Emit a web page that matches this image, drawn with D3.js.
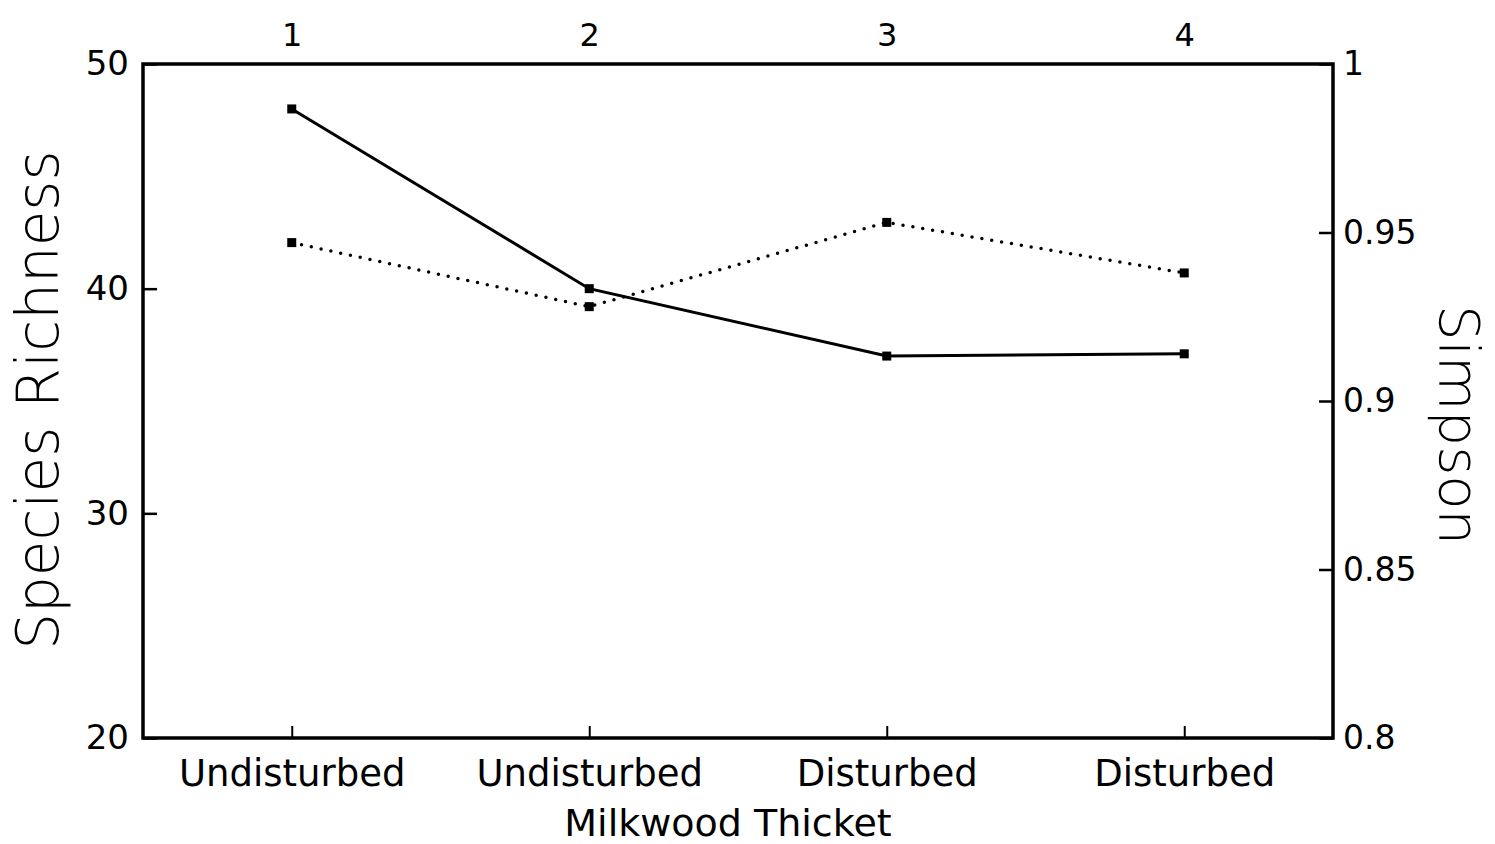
<!DOCTYPE html>
<html>
<head>
<meta charset="utf-8">
<script src="https://cdn.jsdelivr.net/npm/d3@7"></script>
<style>
  body { margin: 0; background: #fff; }
  text { font-family: "DejaVu Sans", sans-serif; fill: #000; }
</style>
</head>
<body>
<script>
// Data
const thickets = ["1", "2", "3", "4"];
const status = ["Undisturbed", "Undisturbed", "Disturbed", "Disturbed"];
const richness = [48, 40, 37, 37.1];
const simpson = [0.947, 0.928, 0.953, 0.938];
const leftTicks = [20, 30, 40, 50];
const rightTicks = [0.8, 0.85, 0.9, 0.95, 1];

const width = 1495, height = 844;
const margin = { top: 64, right: 162, bottom: 106, left: 143 };

const svg = d3.select("body").append("svg")
    .attr("width", width)
    .attr("height", height);

const x = d3.scalePoint()
    .domain(thickets)
    .range([margin.left, width - margin.right])
    .padding(0.5);

const yLeft = d3.scaleLinear()
    .domain([20, 50])
    .range([height - margin.bottom, margin.top]);

const yRight = d3.scaleLinear()
    .domain([0.8, 1])
    .range([height - margin.bottom, margin.top]);

// Frame
svg.append("rect")
    .attr("x", margin.left)
    .attr("y", margin.top)
    .attr("width", width - margin.left - margin.right)
    .attr("height", height - margin.top - margin.bottom)
    .attr("fill", "none")
    .attr("stroke", "#000")
    .attr("stroke-width", 3.5);

// Left axis (inward ticks)
const leftAxis = svg.append("g")
    .attr("transform", `translate(${margin.left},0)`)
    .call(d3.axisRight(yLeft).tickValues(leftTicks).tickSize(14).tickFormat(d3.format("d")));
leftAxis.select(".domain").remove();
leftAxis.selectAll("line").attr("stroke-width", 2.5);
leftAxis.selectAll("text")
    .attr("x", -14)
    .attr("text-anchor", "end")
    .attr("font-size", 34);

// Right axis (inward ticks)
const rightAxis = svg.append("g")
    .attr("transform", `translate(${width - margin.right},0)`)
    .call(d3.axisLeft(yRight).tickValues(rightTicks).tickSize(14).tickFormat(d => d3.format("~g")(d)));
rightAxis.select(".domain").remove();
rightAxis.selectAll("line").attr("stroke-width", 2.5);
rightAxis.selectAll("text")
    .attr("x", 10)
    .attr("text-anchor", "start")
    .attr("font-size", 33);

// Bottom axis: category status, inward ticks
const bottomAxis = svg.append("g")
    .attr("transform", `translate(0,${height - margin.bottom})`)
    .call(d3.axisTop(x).tickSize(12).tickFormat((d, i) => status[i]));
bottomAxis.select(".domain").remove();
bottomAxis.selectAll("line").attr("stroke-width", 2);
bottomAxis.selectAll("text")
    .attr("y", 48)
    .attr("font-size", 37);

// Top axis: thicket number
const topAxis = svg.append("g")
    .attr("transform", `translate(0,${margin.top})`)
    .call(d3.axisTop(x).tickSize(0));
topAxis.select(".domain").remove();
topAxis.selectAll("text")
    .attr("y", -18)
    .attr("font-size", 32);

// Axis titles
svg.append("text")
    .attr("transform", `translate(${x("1") + (x("4") - x("1")) / 2 - 10},${height - 8})`)
    .attr("text-anchor", "middle")
    .attr("font-size", 38)
    .text("Milkwood Thicket");

svg.append("text")
    .attr("transform", `translate(58,400) rotate(-90)`)
    .attr("text-anchor", "middle")
    .attr("font-size", 58)
    .attr("font-weight", 300)
    .text("Species Richness");

svg.append("text")
    .attr("transform", `translate(1440,425) rotate(90)`)
    .attr("text-anchor", "middle")
    .attr("font-size", 56)
    .attr("font-weight", 300)
    .text("Simpson");

// Species richness: solid line
const lineLeft = d3.line()
    .x((d, i) => x(thickets[i]))
    .y(d => yLeft(d));

svg.append("path")
    .datum(richness)
    .attr("d", lineLeft)
    .attr("fill", "none")
    .attr("stroke", "#000")
    .attr("stroke-width", 3);

svg.append("g")
    .selectAll("rect")
    .data(richness)
    .join("rect")
    .attr("x", (d, i) => x(thickets[i]) - 4.5)
    .attr("y", d => yLeft(d) - 4.5)
    .attr("width", 9)
    .attr("height", 9)
    .attr("fill", "#000");

// Simpson index: dotted line
const lineRight = d3.line()
    .x((d, i) => x(thickets[i]))
    .y(d => yRight(d));

svg.append("path")
    .datum(simpson)
    .attr("d", lineRight)
    .attr("fill", "none")
    .attr("stroke", "#000")
    .attr("stroke-width", 3.5)
    .attr("stroke-linecap", "round")
    .attr("stroke-dasharray", "0,10");

svg.append("g")
    .selectAll("rect")
    .data(simpson)
    .join("rect")
    .attr("x", (d, i) => x(thickets[i]) - 4.5)
    .attr("y", d => yRight(d) - 4.5)
    .attr("width", 9)
    .attr("height", 9)
    .attr("fill", "#000");
</script>
</body>
</html>
